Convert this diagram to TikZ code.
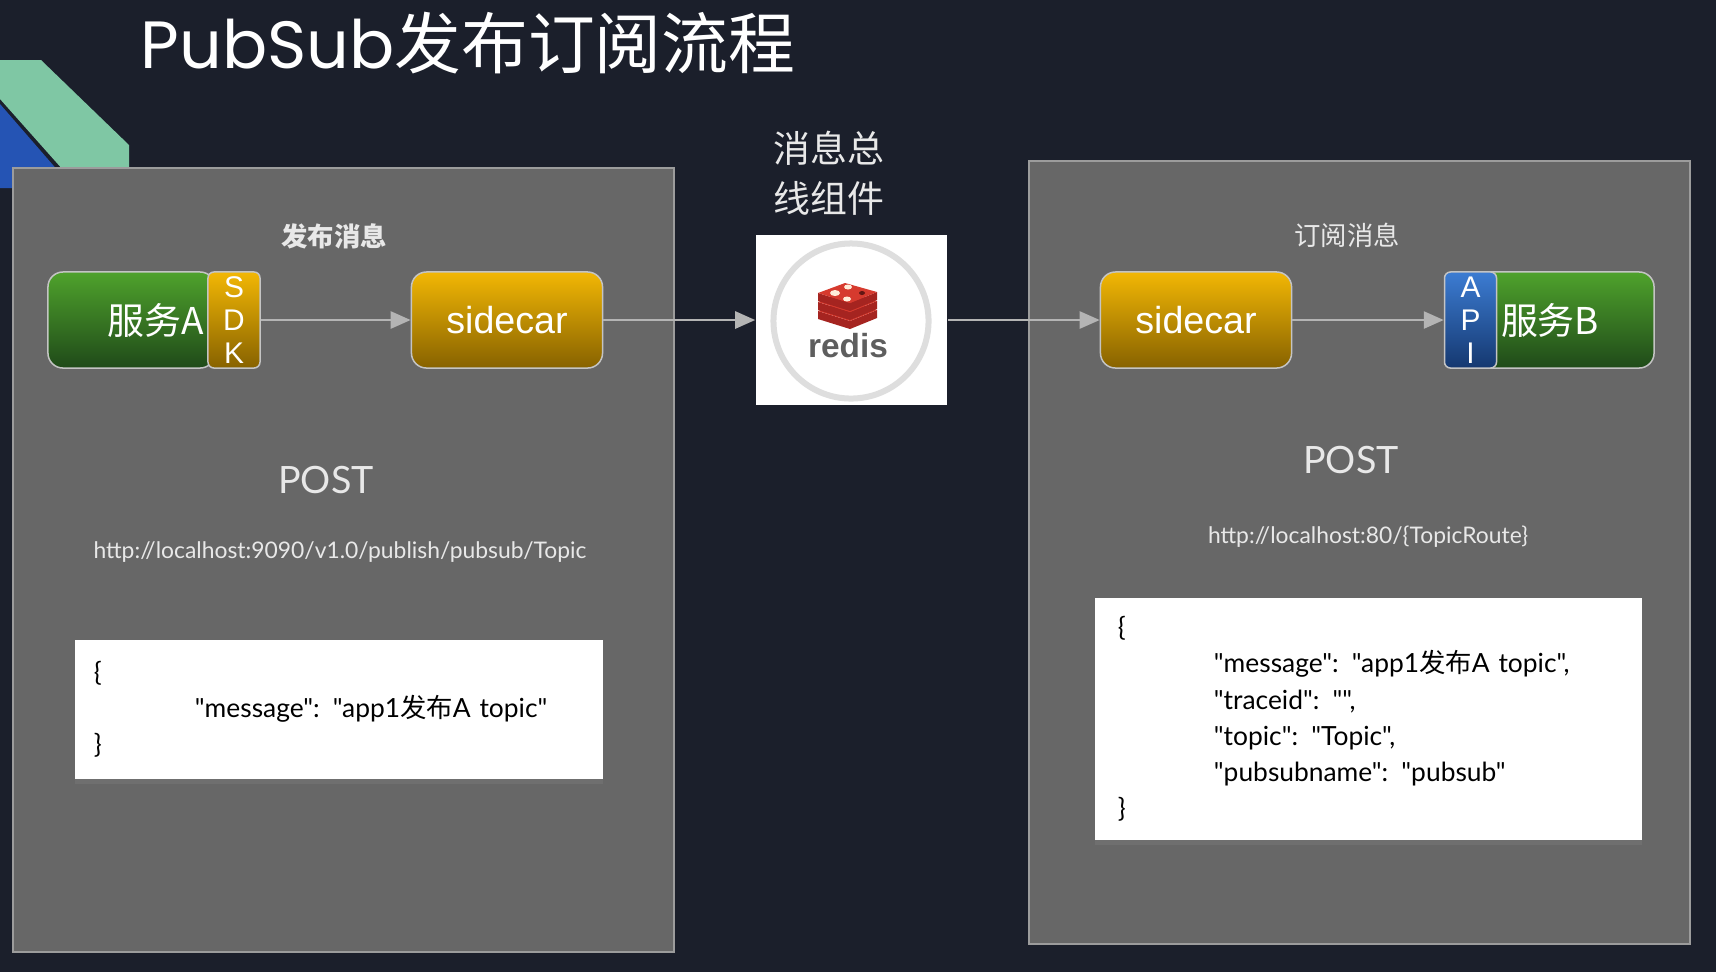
\documentclass[tikz,border=0pt]{standalone}
\usepackage{fontspec}
\setmainfont{Lato}[Ligatures=TeXOff]
\newfontfamily\cjk{Noto Sans CJK SC}
\newfontfamily\titlefont{Poppins}
\newfontfamily\arialfont{Liberation Sans}
\usetikzlibrary{positioning,arrows.meta,shadows}

\definecolor{bgcol}{HTML}{1B1F2B}
\definecolor{panelcol}{HTML}{676767}
\definecolor{panelline}{HTML}{9C9C9C}
\definecolor{boxline}{HTML}{C4C4C4}
\definecolor{greentop}{HTML}{4FA22C}
\definecolor{greenbot}{HTML}{1F4A19}
\definecolor{goldtop}{HTML}{F2B705}
\definecolor{goldbot}{HTML}{876200}
\definecolor{bluetop}{HTML}{3C7CD2}
\definecolor{bluebot}{HTML}{153870}
\definecolor{flowcol}{HTML}{B4B4B4}
\definecolor{mint}{HTML}{7FC7A4}
\definecolor{deco}{HTML}{2554B4}
\definecolor{redistop}{HTML}{D63A2E}
\definecolor{redisside}{HTML}{A52420}
\definecolor{redisgray}{HTML}{5E5E5E}
\definecolor{labelcol}{HTML}{E8E8E8}

\tikzset{
  panel/.style = {draw=panelline, fill=panelcol, line width=0.02cm, minimum width=6.61cm, minimum height=7.83cm},
  comp/.style = {draw=boxline, line width=0.015cm, rounded corners=0.15cm, minimum height=0.96cm, inner sep=0pt},
  greenbox/.style = {comp, top color=greentop, bottom color=greenbot},
  sidecarbox/.style = {comp, top color=goldtop, bottom color=goldbot, minimum width=1.91cm, text=white, font=\fontsize{10.7}{12}\arialfont},
  tagbox/.style = {comp, rounded corners=0.06cm, minimum width=0.52cm, align=center, text=white, font=\fontsize{8.5}{9.3}\arialfont},
  svcname/.style = {text=white, inner xsep=0.03cm, font=\fontsize{10.5}{12}\cjk},
  flow/.style = {draw=flowcol, line width=0.025cm, -{Triangle[length=0.2cm, width=0.17cm]}},
  caption/.style = {text=labelcol, font=\fontsize{10.7}{12}\selectfont},
  url/.style = {text=labelcol, font=\fontsize{6.5}{8}\selectfont},
  body/.style = {fill=white, align=left, font=\fontsize{7.5}{10.3}\selectfont, drop shadow={shadow xshift=0cm, shadow yshift=-0.05cm, opacity=0.35}},
}

\begin{document}
\begin{tikzpicture}[x=0.01cm, y=-0.01cm]
  \fill[bgcol] (0,0) rectangle (1716,972);
  \useasboundingbox (0,0) rectangle (1716,972);

  % corner decoration
  \fill[mint] (0,60) -- (41,60) -- (129,145) -- (129,180) -- (72,180) -- (0,99) -- cycle;
  \fill[deco] (0,104) -- (66,180) -- (66,188) -- (0,188) -- cycle;

  \node[anchor=base west, text=white, inner sep=0pt] (title) at (140,68) {\fontsize{19}{21}\titlefont PubSub\cjk 发布订阅流程};

  % panels
  \node[panel] (pubPanel) at (343.5,560) {};
  \node[panel] (subPanel) at (1359.5,552.5) {};
  \node[font=\fontsize{7.5}{9}\cjk\bfseries, text=labelcol] (pubLbl) at (334,236) {发布消息};
  \node[font=\fontsize{7.5}{9}\cjk, text=labelcol] (subLbl) at (1347,235) {订阅消息};

  % publisher
  \node[greenbox, minimum width=1.67cm] (svcA) at (131.5,320) {};
  \node[tagbox, top color=goldtop, bottom color=goldbot] (sdk) at (234,320) {S\\D\\K};
  \node[svcname, left=0pt of sdk] (svcAname) {服务A};
  \node[sidecarbox] (side1) at (507,320) {sidecar};

  % message bus
  \node[text=labelcol, align=left, font=\fontsize{10.5}{14.2}\cjk] (busLbl) at (829,173) {消息总\\线组件};
  \node[fill=white, minimum width=1.91cm, minimum height=1.69cm] (redis) at (851.5,320) {};
  \node[circle, draw=black!13, line width=0.06cm, minimum size=1.55cm] (redisRing) at (851,321) {};
  \foreach \dy in {18,9,0} {
    \fill[redisside] (818,293+\dy) -- (850,303+\dy) -- (877,292+\dy) -- (877,300+\dy) -- (850,311+\dy) -- (818,301+\dy) -- cycle;
    \fill[redistop] (818,293+\dy) -- (845,283+\dy) -- (877,292+\dy) -- (850,303+\dy) -- cycle;
  }
  \fill[white!85!orange] (835,293) ellipse (5 and 3);
  \fill[white!85!orange] (848,287) ellipse (4 and 2.5);
  \fill[white!85!orange] (847,299) ellipse (4 and 2.5);
  \fill[redisside!60!black] (862,293) ellipse (3 and 2);
  \node[anchor=base, text=redisgray, inner sep=0pt, font=\fontsize{9.5}{10}\arialfont\bfseries] (redisTxt) at (848,357) {redis};

  % subscriber
  \node[sidecarbox] (side2) at (1196,320) {sidecar};
  \node[greenbox, minimum width=1.89cm] (svcB) at (1559.5,320) {};
  \node[tagbox, top color=bluetop, bottom color=bluebot] (api) at (1470.5,320) {A\\P\\I};
  \node[svcname, right=0pt of api] (svcBname) {服务B};

  \draw (sdk) edge[flow] (side1);
  \draw (side1) edge[flow] (redis);
  \draw (redis) edge[flow] (side2);
  \draw (side2) edge[flow] (api);

  % requests
  \node[caption] (postA) at (326,480.5) {POST};
  \node[url] (urlA) at (340,552) {http://localhost:9090/v1.0/publish/pubsub/Topic};
  \node[body, minimum width=5.28cm, minimum height=1.39cm, text width=4.90cm, inner xsep=0.19cm] (bodyA) at (339,709.5) {\{\\
    \hspace*{1.01cm}"message": "app1{\cjk 发布}A topic"\\
    \}};

  \node[caption] (postB) at (1351,460.5) {POST};
  \node[url] (urlB) at (1368,537) {http://localhost:80/\{TopicRoute\}};
  \node[body, minimum width=5.47cm, minimum height=2.42cm, text width=5.01cm, inner xsep=0.23cm] (bodyB) at (1368.5,719) {\{\\
    \hspace*{0.96cm}"message": "app1{\cjk 发布}A topic",\\
    \hspace*{0.96cm}"traceid": "",\\
    \hspace*{0.96cm}"topic": "Topic",\\
    \hspace*{0.96cm}"pubsubname": "pubsub"\\
    \}};
\end{tikzpicture}
\end{document}
